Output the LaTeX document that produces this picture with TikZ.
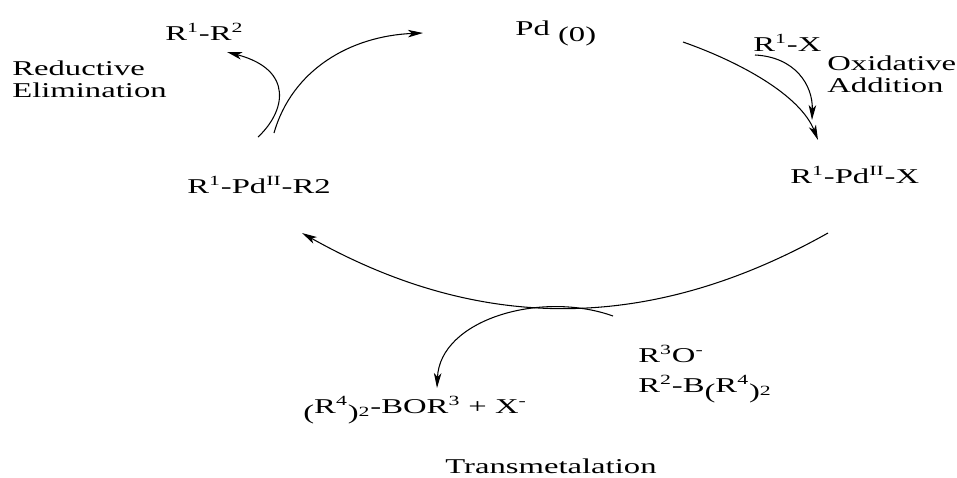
\documentclass[tikz,border=0pt]{standalone}
\usepackage{fontspec}
\setmainfont{Liberation Serif}[FakeStretch=1.55]
\usetikzlibrary{arrows.meta}

\newcommand{\lowp}[1]{\raisebox{-0.3em}{#1}}

\tikzset{
	chem/.style={inner sep=0pt, anchor=base west, font=\fontsize{12}{12.5}\selectfont},
	twoline/.style={chem, align=left, anchor=north west},
	rxn/.style={line width=0.6pt, -{Stealth[length=3mm, width=1.5mm, inset=0.8mm]}},
	plain/.style={line width=0.6pt}
}

\begin{document}
\begin{tikzpicture}[x=0.02cm, y=-0.02cm]
			\useasboundingbox (0,0) rectangle (957,477);
			% Species and labels:
			\node[chem](Pd0) at (515,35){Pd \lowp{(0)}};
			\node[chem](PdX) at (790,183){R\textsuperscript{1}-Pd\textsuperscript{II}-X};
			\node[chem](PdR) at (187,193){R\textsuperscript{1}-Pd\textsuperscript{II}-R2};
			\node[chem](RR) at (165,40){R\textsuperscript{1}-R\textsuperscript{2}};
			\node[chem](RX) at (753,51){R\textsuperscript{1}-X};
			\node[twoline](OxAdd) at (827,56){Oxidative\\Addition};
			\node[twoline](RedEl) at (12,61){Reductive\\Elimination};
			\node[chem](Base) at (638,362){R\textsuperscript{3}O\textsuperscript{-}};
			\node[chem](Boron) at (638,392){R\textsuperscript{2}-B\lowp{(}R\textsuperscript{4}\lowp{)}\textsubscript{2}};
			\node[chem](Waste) at (303,413){\lowp{(}R\textsuperscript{4}\lowp{)}\textsubscript{2}-BOR\textsuperscript{3} + X\textsuperscript{-}};
			\node[chem](TransM) at (445,473){Transmetalation};
			% Arrow ends:
			\coordinate (Pd0out) at (683,42);
			\coordinate (PdXin) at (818,140);
			\coordinate (RXout) at (755,55);
			\coordinate (RXin) at (812,120);
			\coordinate (PdXout) at (828,233);
			\coordinate (PdRin) at (302,233);
			\coordinate (Boronout) at (613,316);
			\coordinate (Wastein) at (437,388);
			\coordinate (PdRout) at (274,133);
			\coordinate (Pd0in) at (423,33);
			\coordinate (RedElout) at (258,137);
			\coordinate (RRin) at (227,52);
			% Arrows:
			\draw[rxn] (Pd0out) .. controls (740,62) and (800,95) .. (PdXin);
			\draw[rxn] (RXout) .. controls (795,57) and (813,85) .. (RXin);
			\draw[rxn] (PdXout) .. controls (650,333) and (480,333) .. (PdRin);
			\draw[rxn] (Boronout) .. controls (540,290) and (440,320) .. (Wastein);
			\draw[rxn] (PdRout) .. controls (292,70) and (350,36) .. (Pd0in);
			\draw[rxn] (RedElout) .. controls (285,112) and (295,70) .. (RRin);
		\end{tikzpicture}
\end{document}
